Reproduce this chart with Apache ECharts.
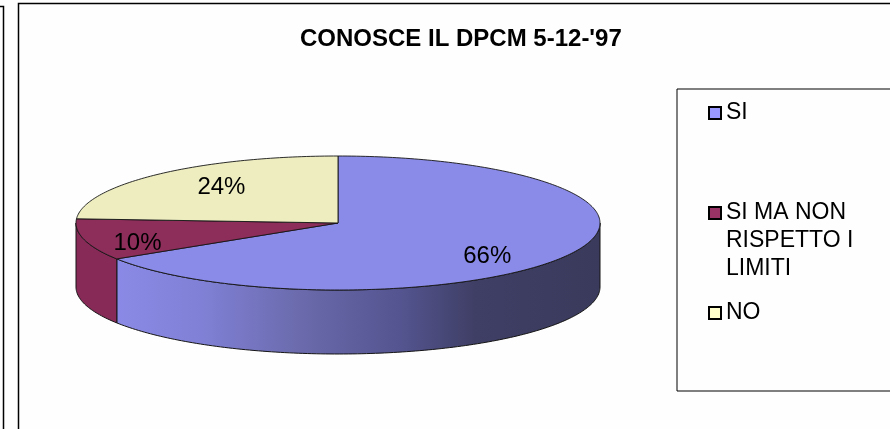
<!DOCTYPE html>
<html><head><meta charset="utf-8">
<script src="https://cdn.jsdelivr.net/npm/echarts@6/dist/echarts.min.js"></script>
<style>html,body{margin:0;padding:0;background:#fefefe}#c{width:890px;height:429px}</style>
</head><body><div id="c"></div>
<script>
// ---- data ----
const categories = ['SI', 'SI MA NON\nRISPETTO I\nLIMITI', 'NO'];
const values = [66, 10, 24];
const legendColors = ['#9999FF', '#993366', '#FFFFCC'];
const topColors = ['#8A8AE8', '#8C2D5A', '#EDEDC0'];
const titleText = "CONOSCE IL DPCM 5-12-'97";

// ---- layout of the 3D pie ----
const CX = 338, CY = 223, RX = 262, RY = 67, DEPTH = 64;
const FONT = '"Liberation Sans", Arial, sans-serif';
const total = values.reduce((a, b) => a + b, 0);
const starts = [];
let acc = 0;
values.forEach(v => { starts.push(acc / total * 360); acc += v; });

function pt(deg, dy) {
  const r = deg * Math.PI / 180;
  return [CX + RX * Math.sin(r), CY - RY * Math.cos(r) + (dy || 0)];
}
function arc(a0, a1, dy) {
  const pts = [];
  const n = Math.max(2, Math.ceil(Math.abs(a1 - a0)));
  for (let i = 0; i <= n; i++) pts.push(pt(a0 + (a1 - a0) * i / n, dy));
  return pts;
}

const blueWall = new echarts.graphic.LinearGradient(CX - RX, 0, CX + RX, 0, [
  { offset: 0, color: '#8C8CEA' },
  { offset: 0.08, color: '#8A8AE6' },
  { offset: 0.24, color: '#8080D6' },
  { offset: 0.43, color: '#6A6AAC' },
  { offset: 0.62, color: '#545490' },
  { offset: 0.76, color: '#3F3F66' },
  { offset: 1, color: '#3A3A5C' }
], true);
const wallFills = [blueWall, '#882A58', '#D8D8A8'];

function makeRender(i) {
  return function (params, api) {
    const v = api.value(0);
    const sweep = v / total * 360;
    const a0 = starts[i], a1 = a0 + sweep;
    const children = [];
    const w0 = Math.max(a0, 90), w1 = Math.min(a1, 270);
    if (w1 > w0) {
      const pts = arc(w0, w1, 0).concat(arc(w1, w0, DEPTH));
      children.push({ type: 'polygon', shape: { points: pts },
        style: { fill: wallFills[i], stroke: '#151515', lineWidth: 1, lineJoin: 'round' }, z2: 1 });
    }
    const tp = [[CX, CY]].concat(arc(a0, a1, 0));
    children.push({ type: 'polygon', shape: { points: tp },
      style: { fill: topColors[i], stroke: '#151515', lineWidth: 0.9, lineJoin: 'round' }, z2: 10 });
    const mid = (a0 + a1) / 2, r = mid * Math.PI / 180;
    const fx = sweep < 45 ? 0.79 : 0.65;   // narrow slices: label pushed outward
    children.push({ type: 'text',
      x: CX + fx * RX * Math.sin(r), y: CY - 0.86 * RY * Math.cos(r) + 6,
      style: { text: Math.round(v / total * 100) + '%', font: '24px ' + FONT, fill: '#000',
        align: 'center', verticalAlign: 'middle' }, z2: 20 });
    return { type: 'group', children };
  };
}

const chart = echarts.init(document.getElementById('c'), null, { renderer: 'canvas' });
chart.setOption({
  animation: false,
  backgroundColor: '#fefefe',
  title: {
    text: titleText, left: 300, top: 27, padding: 0,
    textStyle: { fontSize: 24, fontWeight: 'bold', color: '#000', fontFamily: FONT }
  },
  legend: {
    orient: 'vertical', left: 677, top: 89,
    padding: [10, 60, 64, 31],
    itemGap: 16, itemWidth: 12, itemHeight: 12, icon: 'rect',
    borderColor: '#000', borderWidth: 1,
    itemStyle: { borderColor: '#000', borderWidth: 2 },
    textStyle: { fontSize: 23, lineHeight: 28, color: '#000', fontFamily: FONT },
    formatter: name => '\n'.repeat(name.split('\n').length - 1) + name,
    selectedMode: false,
    data: categories
  },
  graphic: [
    { type: 'polyline', shape: { points: [[18.5, 429], [18.5, 3.5], [890, 3.5]] }, style: { stroke: '#000', lineWidth: 1.5, fill: null } },
    { type: 'polyline', shape: { points: [[0, 6.5], [3.5, 6.5], [3.5, 429]] }, style: { stroke: '#000', lineWidth: 1.5, fill: null } }
  ],
  series: categories.map((name, i) => ({
    type: 'custom', name: name, coordinateSystem: 'none',
    itemStyle: { color: legendColors[i] },
    renderItem: makeRender(i),
    data: [[values[i]]]
  }))
});
</script></body></html>
